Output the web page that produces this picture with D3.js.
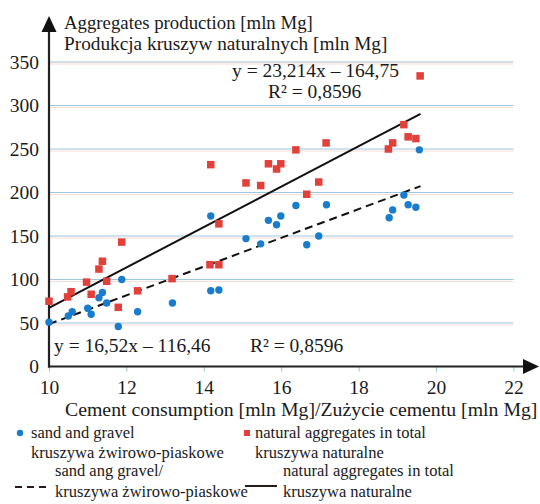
<!DOCTYPE html>
<html>
<head>
<meta charset="utf-8">
<script src="https://cdn.jsdelivr.net/npm/d3@7"></script>
<style>
  body { margin: 0; background: #fff; }
  svg { display: block; }
</style>
</head>
<body>
<svg id="chart" width="540" height="504"></svg>
<script>
// natural aggregates in total (red squares)
var totalX = [10.0, 10.48, 10.57, 10.97, 11.09, 11.29, 11.38, 11.49, 11.79, 11.88, 12.29, 13.18,
  14.16, 14.39, 14.18, 14.39, 15.09, 15.47, 15.67, 15.88, 15.99, 16.38, 16.66, 16.97, 17.16,
  18.77, 18.88, 19.17, 19.28, 19.48, 19.59];
var totalY = [75, 80, 86, 97, 83, 112, 121, 98, 68, 143, 87, 101,
  117, 117, 232, 164, 211, 208, 233, 227, 233, 249, 198, 212, 257,
  250, 257, 278, 264, 262, 334];
// sand and gravel (blue dots)
var sandX = [10.0, 10.5, 10.6, 11.0, 11.09, 11.29, 11.38, 11.49, 11.79, 11.88, 12.29, 13.19,
  14.18, 14.39, 14.18, 15.09, 15.47, 15.67, 15.88, 15.99, 16.38, 16.66, 16.97, 17.17,
  18.79, 18.88, 19.17, 19.28, 19.48, 19.57];
var sandY = [51, 58, 63, 67, 60, 79, 85, 73, 46, 100, 63, 73,
  87, 88, 173, 147, 141, 168, 163, 173, 185, 140, 150, 186,
  171, 180, 197, 186, 183, 249];

// trend lines: y = a*x + b
var trendTotal = { a: 23.214, b: -164.75, from: 10, to: 19.6 };
var trendSand = { a: 16.52, b: -116.46, from: 10, to: 19.6 };

var xTicks = [10, 12, 14, 16, 18, 20, 22];
var yTicks = [0, 50, 100, 150, 200, 250, 300, 350];

var SERIF = "'Liberation Serif', 'Times New Roman', serif";
var svg = d3.select("#chart");
var x = d3.scaleLinear().domain([10, 22]).range([49, 513.4]);
var y = d3.scaleLinear().domain([0, 350]).range([366.5, 62]);

// grid (blue with faint pink print shadow)
var grid = svg.append("g");
yTicks.slice(1).forEach(function(t) {
  grid.append("line").attr("x1", x(10)).attr("x2", x(22))
    .attr("y1", y(t) + 2).attr("y2", y(t) + 2)
    .attr("stroke", "#f6dcd6").attr("stroke-width", 1);
  grid.append("line").attr("x1", x(10)).attr("x2", x(22))
    .attr("y1", y(t)).attr("y2", y(t))
    .attr("stroke", t == 350 ? "#a7c0cc" : "#9dc6e0").attr("stroke-width", 1.2);
});

// x axis
var xAxis = svg.append("g").attr("transform", "translate(0," + y(0) + ")")
  .call(d3.axisBottom(x).tickValues(xTicks).tickSize(5).tickSizeOuter(0).tickPadding(9));
xAxis.select(".domain").remove();
xAxis.selectAll(".tick line").attr("stroke", "#8cc4e6");
xAxis.selectAll(".tick text").attr("fill", "#1a1a1a")
  .style("font-family", SERIF).style("font-size", "19.5px");

// y axis
var yAxis = svg.append("g").attr("transform", "translate(" + (x(10) - 1) + ",0)")
  .call(d3.axisLeft(y).tickValues(yTicks).tickSize(0).tickPadding(9));
yAxis.select(".domain").remove();
yAxis.selectAll(".tick text").attr("fill", "#1a1a1a")
  .style("font-family", SERIF).style("font-size", "19.5px");

// axis lines with arrows
svg.append("line").attr("x1", x(10)).attr("x2", x(10)).attr("y1", y(0) + 1).attr("y2", 28)
  .attr("stroke", "#222").attr("stroke-width", 2.2);
svg.append("path").attr("d", "M49,16 L41.5,32 L56.5,32 Z").attr("fill", "#111");
svg.append("line").attr("x1", x(10) - 1).attr("x2", 526).attr("y1", y(0)).attr("y2", y(0))
  .attr("stroke", "#222").attr("stroke-width", 2.2);
svg.append("path").attr("d", "M539,366.5 L523,359 L523,374 Z").attr("fill", "#111");

// trend lines
function trendLine(t) {
  return [[t.from, t.a * t.from + t.b], [t.to, t.a * t.to + t.b]];
}
var line = d3.line().x(function(d) { return x(d[0]); }).y(function(d) { return y(d[1]); });
svg.append("path").datum(trendLine(trendTotal)).attr("d", line)
  .attr("fill", "none").attr("stroke", "#111").attr("stroke-width", 2);
svg.append("path").datum(trendLine(trendSand)).attr("d", line)
  .attr("fill", "none").attr("stroke", "#111").attr("stroke-width", 2)
  .attr("stroke-dasharray", "8,5");

// points
var sq = 7.5;
svg.append("g").selectAll("rect").data(d3.range(totalX.length)).join("rect")
  .attr("x", function(i) { return x(totalX[i]) - sq / 2; })
  .attr("y", function(i) { return y(totalY[i]) - sq / 2; })
  .attr("width", sq).attr("height", sq).attr("fill", "#e2403a");
svg.append("g").selectAll("circle").data(d3.range(sandX.length)).join("circle")
  .attr("cx", function(i) { return x(sandX[i]); })
  .attr("cy", function(i) { return y(sandY[i]); })
  .attr("r", 3.7).attr("fill", "#1a7ccc");

// texts
function txt(s, px, py, size, anchor) {
  return svg.append("text").attr("x", px).attr("y", py)
    .style("font-family", SERIF).style("font-size", size + "px")
    .attr("text-anchor", anchor || "start").attr("fill", "#1a1a1a").text(s);
}
txt("Aggregates production [mln Mg]", 64, 29, 18.8);
txt("Produkcja kruszyw naturalnych [mln Mg]", 64, 50, 19.3);
txt("y = 23,214x \u2013 164,75", 232, 76.5, 19.5);
txt("R\u00b2 = 0,8596", 268, 98, 19.5);
txt("y = 16,52x \u2013 116,46", 54, 352, 19.5);
txt("R\u00b2 = 0,8596", 250, 352, 19.5);
txt("Cement consumption [mln Mg]/Zu\u017cycie cementu [mln Mg]", 65, 416, 19.8);

// legend
var lg = svg.append("g");
lg.append("circle").attr("cx", 20).attr("cy", 433).attr("r", 3.2).attr("fill", "#1a7ccc");
txt("sand and gravel", 31, 438, 16.5);
txt("kruszywa \u017cwirowo-piaskowe", 31, 458, 16.5);
lg.append("rect").attr("x", 244).attr("y", 430).attr("width", 6).attr("height", 6).attr("fill", "#e2403a");
txt("natural aggregates in total", 255, 438, 16.5);
txt("kruszywa naturalne", 255, 458, 16.5);
lg.append("line").attr("x1", 15).attr("x2", 51).attr("y1", 487).attr("y2", 487)
  .attr("stroke", "#2a1a1a").attr("stroke-width", 2).attr("stroke-dasharray", "7,5");
txt("sand ang gravel/", 55, 476, 16.5);
txt("kruszywa \u017cwirowo-piaskowe", 55, 497, 16.5);
lg.append("line").attr("x1", 245).attr("x2", 277).attr("y1", 486).attr("y2", 486)
  .attr("stroke", "#2a1a1a").attr("stroke-width", 2);
txt("natural aggregates in total", 283, 476, 16.5);
txt("kruszywa naturalne", 283, 497, 16.5);
</script>
</body>
</html>
